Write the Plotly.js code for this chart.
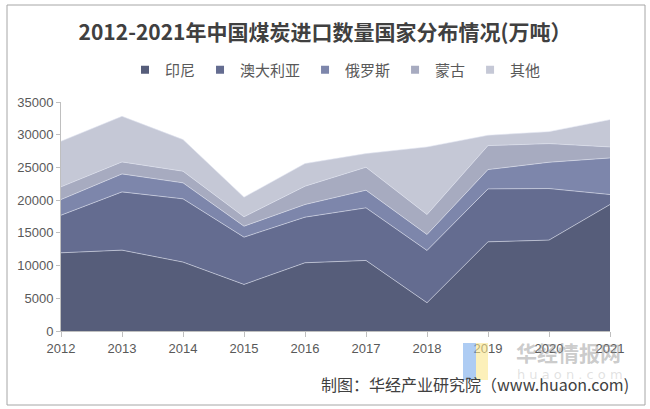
<!DOCTYPE html>
<html>
<head>
<meta charset="utf-8">
<script src="https://cdn.plot.ly/plotly-3.0.1.min.js"></script>
<style>
  body { margin: 0; background: #fff; }
  #chart { width: 650px; height: 409px; }
</style>
</head>
<body>
<div id="chart"></div>
<script>
// 2012-2021 China coal imports by country (10k tonnes)
var years = [2012, 2013, 2014, 2015, 2016, 2017, 2018, 2019, 2020, 2021];

var indonesia = [11950, 12360, 10530, 7120, 10430, 10785, 4320, 13630, 13890, 19330];
var australia = [5750, 8900, 9665, 7225, 6970, 8035, 7990, 8090, 7880, 1530];
var russia    = [2390, 2750, 2445, 1675, 1930, 2700, 2440, 2950, 4020, 5590];
var mongolia  = [1940, 1830, 1780, 1430, 2800, 3510, 3050, 3665, 2850, 1680];
var others    = [6970, 6970, 4830, 3000, 3460, 2080, 10330, 1575, 1830, 4170];

var names  = ['印尼', '澳大利亚', '俄罗斯', '蒙古', '其他'];
var series = [indonesia, australia, russia, mongolia, others];
var colors = ['#565d7a', '#646c90', '#7d86ab', '#a7abc0', '#c5c8d6'];

var data = series.map(function (vals, i) {
    return {
        x: years,
        y: vals,
        name: names[i],
        type: 'scatter',
        mode: 'lines',
        stackgroup: 'one',
        fillcolor: colors[i],
        line: { color: 'rgba(225,228,240,0.7)', width: 0.8 },
        legendgroup: names[i],
        showlegend: false,
        hoverinfo: 'x+y+name'
    };
});

// legend entries with small square swatches like the original
names.forEach(function (n, i) {
    data.push({
        x: [null],
        y: [null],
        name: n,
        type: 'scatter',
        mode: 'markers',
        legendgroup: n,
        marker: { symbol: 'square', size: 8, color: colors[i] },
        hoverinfo: 'skip'
    });
});

// pixel -> paper helpers (plot area is 61..610 x 102..331)
function px(x) { return (x - 61) / 549; }
function py(y) { return (331 - y) / 229; }

var layout = {
    width: 650,
    height: 409,
    margin: { l: 61, r: 40, t: 102, b: 78 },
    paper_bgcolor: '#fff',
    plot_bgcolor: '#fff',
    font: { family: 'Liberation Sans, Arial, sans-serif', color: '#595959' },
    title: {
        text: '<b>2012-2021年中国煤炭进口数量国家分布情况(万吨）</b>',
        font: { family: 'Noto Sans CJK SC', size: 21, color: '#404040' },
        x: 0.5,
        xanchor: 'center',
        y: 1 - 33 / 409,
        yanchor: 'middle'
    },
    showlegend: true,
    legend: {
        orientation: 'h',
        x: 0.5,
        xanchor: 'center',
        y: py(70),
        yanchor: 'middle',
        traceorder: 'normal',
        itemwidth: 30,
        font: { family: 'Noto Sans CJK SC', size: 15, color: '#595959' }
    },
    xaxis: {
        range: [2012, 2021],
        tickvals: years,
        ticks: 'outside',
        ticklen: 5,
        tickcolor: '#bfbfbf',
        showline: true,
        linecolor: '#bfbfbf',
        showgrid: false,
        zeroline: false,
        tickfont: { size: 13, color: '#595959' }
    },
    yaxis: {
        range: [0, 35000],
        dtick: 5000,
        ticks: 'outside',
        ticklen: 4,
        tickcolor: '#bfbfbf',
        showline: true,
        linecolor: '#bfbfbf',
        showgrid: false,
        zeroline: false,
        tickformat: 'd',
        tickfont: { size: 13, color: '#595959' }
    },
    shapes: [
        // outer frame
        { type: 'rect', xref: 'paper', yref: 'paper',
          x0: px(7), x1: px(645), y0: py(405), y1: py(5),
          line: { color: '#a6a6a6', width: 1 } },
        // watermark logo blocks
        { type: 'rect', xref: 'paper', yref: 'paper', layer: 'above',
          x0: px(463), x1: px(476), y0: py(380), y1: py(343),
          fillcolor: 'rgba(120,170,235,0.6)', line: { width: 0 } },
        { type: 'rect', xref: 'paper', yref: 'paper', layer: 'above',
          x0: px(476), x1: px(488), y0: py(380), y1: py(343),
          fillcolor: 'rgba(250,230,140,0.6)', line: { width: 0 } }
    ],
    annotations: [
        { text: '制图：华经产业研究院（www.huaon.com)',
          xref: 'paper', yref: 'paper', x: px(631), y: py(384),
          xanchor: 'right', yanchor: 'middle', showarrow: false,
          font: { family: 'Noto Sans CJK SC', size: 16, color: '#404040' } },
        { text: '<b>华经情报网</b>',
          xref: 'paper', yref: 'paper', x: px(568), y: py(352),
          xanchor: 'center', yanchor: 'middle', showarrow: false,
          font: { family: 'Noto Sans CJK SC', size: 21, color: 'rgba(140,140,140,0.45)' } },
        { text: 'h u a o n . c o m',
          xref: 'paper', yref: 'paper', x: px(570), y: py(374),
          xanchor: 'center', yanchor: 'middle', showarrow: false,
          font: { family: 'DejaVu Sans', size: 13, color: 'rgba(170,170,170,0.35)' } }
    ]
};

Plotly.newPlot('chart', data, layout, { displayModeBar: false, staticPlot: true });
</script>
</body>
</html>
